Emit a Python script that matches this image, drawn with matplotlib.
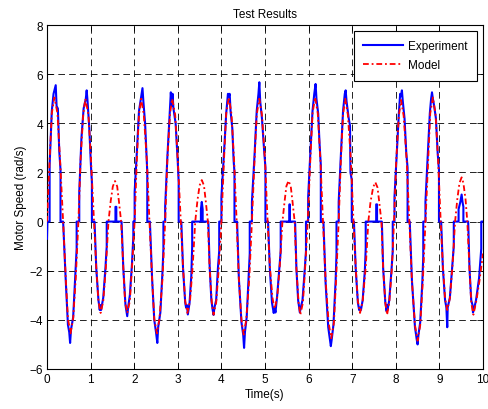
import numpy as np
import matplotlib
matplotlib.use("Agg")
import matplotlib.pyplot as plt

plt.rcParams['font.family'] = ['Liberation Sans', 'DejaVu Sans']

# model response, (time s, speed rad/s)
model_pts = [
    (0.00, 0.0), (0.06, 2.5), (0.11, 4.4), (0.17, 5.05), (0.24, 4.4), (0.30, 2.5), (0.37, 0.0),
    (0.43, -2.3), (0.48, -3.95), (0.54, -4.55), (0.60, -3.95), (0.66, -2.3), (0.72, 0.0),
    (0.77, 2.5), (0.83, 4.35), (0.88, 5.0), (0.95, 4.35), (1.01, 2.5), (1.08, 0.0),
    (1.13, -1.86), (1.18, -3.24), (1.23, -3.72), (1.29, -3.24), (1.35, -1.86), (1.41, 0.0),
    (1.46, 0.82), (1.51, 1.43), (1.56, 1.65), (1.61, 1.43), (1.65, 0.82), (1.70, 0.0),
    (1.75, -1.86), (1.79, -3.24), (1.84, -3.72), (1.90, -3.24), (1.95, -1.86), (2.01, 0.0),
    (2.06, 2.5), (2.11, 4.35), (2.16, 5.0), (2.22, 4.35), (2.29, 2.5), (2.35, 0.0),
    (2.41, -2.3), (2.46, -3.95), (2.52, -4.55), (2.58, -3.95), (2.65, -2.3), (2.71, 0.0),
    (2.76, 2.5), (2.82, 4.35), (2.87, 5.0), (2.94, 4.35), (3.00, 2.5), (3.07, 0.0),
    (3.12, -1.86), (3.17, -3.24), (3.22, -3.72), (3.28, -3.24), (3.34, -1.86), (3.40, 0.0),
    (3.45, 0.85), (3.50, 1.47), (3.55, 1.69), (3.60, 1.47), (3.64, 0.85), (3.69, 0.0),
    (3.73, -1.9), (3.78, -3.3), (3.82, -3.79), (3.88, -3.3), (3.94, -1.9), (4.00, 0.0),
    (4.06, 2.53), (4.11, 4.4), (4.17, 5.06), (4.23, 4.4), (4.29, 2.53), (4.35, 0.0),
    (4.40, -2.3), (4.46, -4.0), (4.51, -4.6), (4.57, -4.0), (4.64, -2.3), (4.70, 0.0),
    (4.76, 2.5), (4.81, 4.35), (4.87, 5.0), (4.93, 4.35), (5.00, 2.5), (5.06, 0.0),
    (5.11, -1.78), (5.17, -3.09), (5.22, -3.55), (5.28, -3.09), (5.34, -1.78), (5.40, 0.0),
    (5.45, 0.83), (5.49, 1.44), (5.54, 1.66), (5.59, 1.44), (5.63, 0.83), (5.68, 0.0),
    (5.72, -1.9), (5.77, -3.3), (5.81, -3.79), (5.87, -3.3), (5.92, -1.9), (5.98, 0.0),
    (6.04, 2.53), (6.09, 4.4), (6.15, 5.06), (6.21, 4.4), (6.27, 2.53), (6.33, 0.0),
    (6.39, -2.38), (6.46, -4.13), (6.52, -4.75), (6.58, -4.13), (6.63, -2.38), (6.69, 0.0),
    (6.74, 2.5), (6.79, 4.35), (6.84, 5.0), (6.90, 4.35), (6.97, 2.5), (7.03, 0.0),
    (7.08, -1.86), (7.13, -3.24), (7.18, -3.72), (7.24, -3.24), (7.31, -1.86), (7.37, 0.0),
    (7.42, 0.8), (7.48, 1.39), (7.53, 1.6), (7.58, 1.39), (7.62, 0.8), (7.67, 0.0),
    (7.71, -1.9), (7.76, -3.3), (7.80, -3.79), (7.85, -3.3), (7.91, -1.9), (7.96, 0.0),
    (8.01, 2.48), (8.07, 4.3), (8.12, 4.95), (8.18, 4.3), (8.25, 2.48), (8.31, 0.0),
    (8.37, -2.43), (8.44, -4.22), (8.50, -4.85), (8.56, -4.22), (8.62, -2.43), (8.68, 0.0),
    (8.74, 2.53), (8.79, 4.4), (8.85, 5.05), (8.91, 4.4), (8.97, 2.53), (9.03, 0.0),
    (9.08, -1.8), (9.13, -3.13), (9.18, -3.6), (9.24, -3.13), (9.30, -1.8), (9.36, 0.0),
    (9.41, 0.9), (9.46, 1.57), (9.51, 1.8), (9.55, 1.57), (9.60, 0.9), (9.64, 0.0),
    (9.69, -1.9), (9.73, -3.3), (9.78, -3.79), (9.85, -3.2), (9.92, -2.4), (10.0, -1.3),
]

# measured speed, dead zone around zero shows up as flat steps
exp_pts = [
    (0.00, -0.7), (0.01, 0.0), (0.06, 0.0), (0.06, 2.3), (0.11, 4.5), (0.15, 5.2), (0.20, 5.55),
    (0.22, 4.7), (0.25, 4.6), (0.28, 2.9), (0.31, 2.1), (0.31, 0.0), (0.37, 0.0),
    (0.43, -2.4), (0.48, -4.2), (0.51, -4.5), (0.53, -4.94), (0.55, -4.4), (0.60, -3.9),
    (0.66, -1.8), (0.68, -1.1), (0.68, 0.0), (0.74, 0.0), (0.74, 1.2), (0.79, 3.4),
    (0.84, 4.6), (0.89, 5.0), (0.91, 5.34), (0.93, 4.9), (0.97, 3.8), (1.01, 2.2),
    (1.03, 1.6), (1.03, 0.0), (1.09, 0.0), (1.13, -1.9), (1.18, -3.2), (1.21, -3.6),
    (1.22, -3.4), (1.24, -3.6), (1.29, -3.1), (1.34, -1.9), (1.37, -1.0), (1.37, 0.0),
    (1.57, 0.0), (1.57, 0.6), (1.59, 0.6), (1.59, 0.0), (1.71, 0.0), (1.75, -1.9),
    (1.80, -3.4), (1.84, -3.85), (1.86, -3.5), (1.90, -3.0), (1.95, -1.7), (1.98, -0.6),
    (1.98, 0.0), (2.01, 0.0), (2.01, 1.2), (2.06, 2.8), (2.11, 4.5), (2.16, 5.1),
    (2.19, 5.43), (2.21, 4.9), (2.25, 4.0), (2.28, 2.8), (2.30, 2.0), (2.30, 0.0),
    (2.36, 0.0), (2.41, -2.3), (2.46, -4.0), (2.50, -4.5), (2.53, -4.94), (2.55, -4.3),
    (2.60, -3.7), (2.65, -2.0), (2.67, -1.1), (2.67, 0.0), (2.71, 0.0), (2.71, 0.6),
    (2.76, 2.6), (2.81, 4.3), (2.84, 5.26), (2.86, 4.7), (2.88, 5.2), (2.90, 4.6),
    (2.95, 4.0), (3.00, 2.4), (3.02, 1.6), (3.02, 0.0), (3.08, 0.0), (3.12, -1.9),
    (3.17, -3.3), (3.19, -3.5), (3.21, -3.4), (3.23, -3.78), (3.27, -3.3), (3.31, -2.2),
    (3.33, -1.0), (3.33, 0.0), (3.53, 0.0), (3.53, 0.5), (3.55, 0.8), (3.57, 0.5),
    (3.57, 0.0), (3.70, 0.0), (3.73, -1.8), (3.77, -3.2), (3.80, -3.6), (3.82, -3.8),
    (3.84, -3.5), (3.88, -3.2), (3.92, -1.9), (3.95, -1.2), (3.95, 0.0), (4.00, 0.0),
    (4.00, 1.0), (4.06, 2.8), (4.11, 4.4), (4.15, 5.2), (4.17, 5.1), (4.19, 5.2),
    (4.21, 4.5), (4.25, 3.8), (4.28, 2.5), (4.30, 2.0), (4.30, 0.0), (4.36, 0.0),
    (4.40, -2.3), (4.46, -4.1), (4.50, -4.6), (4.52, -5.14), (4.54, -4.5), (4.58, -3.9),
    (4.63, -2.1), (4.65, -1.3), (4.65, 0.0), (4.70, 0.0), (4.70, 0.8), (4.76, 2.7),
    (4.81, 4.5), (4.85, 5.2), (4.87, 5.67), (4.89, 4.9), (4.93, 4.2), (4.98, 2.9),
    (5.01, 2.2), (5.01, 0.0), (5.07, 0.0), (5.11, -1.9), (5.16, -3.3), (5.20, -3.72),
    (5.22, -3.5), (5.24, -3.7), (5.28, -3.0), (5.33, -1.9), (5.36, -1.2), (5.36, 0.0),
    (5.56, 0.0), (5.56, 0.7), (5.57, 0.7), (5.57, 0.0), (5.69, 0.0), (5.72, -1.9),
    (5.76, -3.2), (5.80, -3.7), (5.82, -3.5), (5.86, -3.2), (5.91, -2.0), (5.94, -1.2),
    (5.94, 0.0), (5.99, 0.0), (5.99, 1.0), (6.04, 2.8), (6.09, 4.5), (6.13, 5.2),
    (6.16, 5.6), (6.18, 5.0), (6.22, 4.4), (6.25, 3.2), (6.28, 2.3), (6.28, 0.0),
    (6.34, 0.0), (6.39, -2.5), (6.45, -4.3), (6.49, -4.8), (6.51, -5.07), (6.53, -4.8),
    (6.57, -4.2), (6.62, -2.4), (6.64, -1.3), (6.64, 0.0), (6.69, 0.0), (6.69, 0.8),
    (6.74, 2.7), (6.79, 4.5), (6.83, 5.2), (6.85, 5.34), (6.87, 4.9), (6.92, 4.2),
    (6.95, 3.9), (6.96, 2.0), (6.99, 1.7), (6.99, 0.0), (7.04, 0.0), (7.08, -1.9),
    (7.13, -3.3), (7.16, -3.6), (7.18, -3.5), (7.20, -3.6), (7.24, -3.2), (7.29, -2.0),
    (7.31, -1.1), (7.31, 0.0), (7.55, 0.0), (7.55, 0.7), (7.57, 0.7), (7.57, 0.0),
    (7.68, 0.0), (7.71, -1.9), (7.76, -3.3), (7.79, -3.65), (7.80, -3.4), (7.81, -3.6),
    (7.85, -3.2), (7.90, -2.0), (7.93, -1.2), (7.93, 0.0), (7.97, 0.0), (7.97, 1.0),
    (8.02, 2.7), (8.07, 4.4), (8.10, 5.2), (8.12, 5.1), (8.14, 5.34), (8.16, 4.9),
    (8.20, 4.2), (8.24, 2.8), (8.27, 2.2), (8.27, 0.0), (8.32, 0.0), (8.37, -2.4),
    (8.44, -4.3), (8.48, -4.8), (8.50, -5.0), (8.52, -4.6), (8.56, -4.1), (8.61, -2.4),
    (8.63, -1.4), (8.63, 0.0), (8.68, 0.0), (8.68, 0.8), (8.73, 2.6), (8.78, 4.4),
    (8.81, 5.0), (8.83, 5.26), (8.85, 5.0), (8.88, 4.7), (8.92, 4.2), (8.96, 2.8),
    (8.99, 2.1), (8.99, 0.0), (9.04, 0.0), (9.08, -1.9), (9.13, -3.2), (9.16, -3.5),
    (9.18, -4.3), (9.19, -3.5), (9.24, -3.1), (9.29, -1.9), (9.33, -1.0), (9.33, 0.0),
    (9.44, 0.0), (9.44, 0.5), (9.48, 0.8), (9.51, 1.1), (9.53, 0.8), (9.55, 0.6),
    (9.55, 0.0), (9.66, 0.0), (9.69, -1.9), (9.73, -3.2), (9.76, -3.4), (9.77, -3.7),
    (9.79, -3.6), (9.84, -3.2), (9.91, -2.3), (9.96, -1.1), (9.96, 0.0), (10.0, 0.0),
]

x_ticks = list(range(0, 11))
y_ticks = list(range(-6, 9, 2))

model_t, model_v = np.array(model_pts).T
exp_t, exp_v = np.array(exp_pts).T

fig = plt.figure(figsize=(4.89, 4.10), dpi=100)
ax = fig.add_axes([47 / 489, 1 - 370 / 410, 436 / 489, 344 / 410])

ax.plot(exp_t, exp_v, color='#0000ff', lw=1.5, label='Experiment', zorder=3)
ax.plot(model_t, model_v, color='#ff0000', lw=1.3, ls=(0, (3.2, 1.6, 1, 1.6)),
        label='Model', zorder=4)

ax.set_xlim(0, 10)
ax.set_ylim(-6, 8)
ax.set_xticks(x_ticks)
ax.set_yticks(y_ticks)
ax.grid(True, color='black', lw=0.6, ls=(0, (8, 5)))
ax.set_axisbelow(True)
ax.tick_params(direction='in', length=4, width=0.6, top=True, right=True,
               labelsize=8.5, pad=3)
for s in ax.spines.values():
    s.set_linewidth(0.8)

ax.set_title('Test Results', fontsize=8.5, pad=6)
ax.set_xlabel('Time(s)', fontsize=8.5, labelpad=2)
ax.set_ylabel('Motor Speed (rad/s)', fontsize=8.5, labelpad=2)

leg = ax.legend(loc='upper right', fontsize=8.5, fancybox=False, framealpha=1,
                edgecolor='black', handlelength=3.4, handletextpad=0.4,
                labelspacing=0.6, borderpad=0.8, borderaxespad=0.5)
leg.get_frame().set_linewidth(0.8)

fig.savefig('out.png', dpi=100)
